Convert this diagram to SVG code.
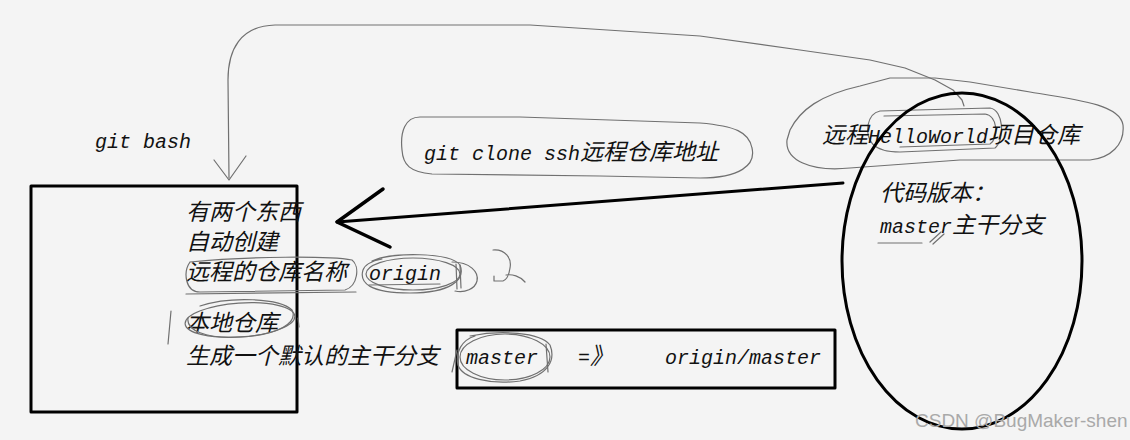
<svg xmlns="http://www.w3.org/2000/svg" width="1130" height="440" viewBox="0 0 1130 440">
<style>
.c{font-family:"Noto Sans CJK SC","Liberation Mono",sans-serif;font-size:23px;font-style:italic;fill:#111}
.l{font-family:"Liberation Mono","Noto Sans CJK SC",monospace;font-size:20px;font-style:italic;fill:#111}
.thin{fill:none;stroke:#707070;stroke-width:1.2;stroke-linecap:round;stroke-linejoin:round}
.bold{fill:none;stroke:#000;stroke-width:3;stroke-linecap:round;stroke-linejoin:round}
.wm{font-family:"Liberation Sans",Arial,sans-serif;font-size:19px;fill:#a9a9a9}
</style>
<rect width="1130" height="440" fill="#f4f4f4"/>

<g id="connectors">
  <path class="thin" d="M229,178 L228,80 C228,50 240,26 275,25 L530,25 L700,36 L800,50 L870,60 L905,68 L935,80 L953,90 L962,100 L964,106"/>
  <polyline class="thin" points="214,160 229,180 246,156"/>
  <path class="bold" d="M843,183 L337,222"/>
  <polyline class="bold" points="383,189 337,222 390,247" style="stroke-width:3.5"/>
</g>

<g id="git-bash-label">
  <text class="l" x="95" y="148">git bash</text>
</g>

<g id="git-clone-label">
  <path class="thin" d="M420,117 C405,117 400,132 402,150 C403,165 410,172 432,174 L600,176 L700,178 C740,178 756,165 752,148 C749,132 735,126 700,123 L520,117 L420,117"/>
  <text class="c" x="424" y="160"><tspan class="l">git clone ssh</tspan>远程仓库地址</text>
</g>

<g id="local-box">
  <rect class="bold" x="31" y="186" width="266" height="226"/>
  <text class="c" x="186" y="220">有两个东西</text>
  <text class="c" x="186" y="250">自动创建</text>
  <text class="c" x="186" y="280">远程的仓库名称</text>
  <path class="thin" d="M190,262 C250,256 330,256 352,260 C360,266 358,286 345,290 L200,292 C185,292 183,272 190,262 M186,294 L356,292"/>
  <text class="l" x="369" y="280">origin</text>
  <path class="thin" d="M372,261 C392,252 450,252 460,265 C466,280 450,293 410,293 C370,293 359,283 363,270 C365,264 372,261 382,259"/>
  <ellipse class="thin" cx="413" cy="274" rx="47" ry="16"/>
  <path class="thin" d="M452,262 C470,262 479,272 477,281 C475,289 465,293 455,291 M456,264 L457,289 M460,265 L461,288 M369,285 L440,284"/>
  <path class="thin" d="M493,250 C505,249 512,258 510,268 C509,275 506,280 503,281 L494,281 L494,276 M506,275 C512,274 520,276 525,282"/>
  <text class="c" x="186" y="331">本地仓库</text>
  <ellipse class="thin" cx="240" cy="320" rx="55" ry="17" transform="rotate(-4 240 320)"/>
  <path class="thin" d="M200,306 C230,296 280,298 292,310 C298,322 280,335 240,337 C205,339 186,330 188,318"/>
  <path class="thin" d="M171,311 L168,344 M298,318 L299,327"/>
  <text class="c" x="186" y="364">生成一个默认的主干分支</text>
</g>

<g id="master-box">
  <rect class="bold" x="457" y="330" width="378" height="58"/>
  <text class="l" x="466" y="364">master</text>
  <ellipse class="thin" cx="505" cy="357" rx="45" ry="23"/>
  <path class="thin" d="M470,336 C500,330 540,332 550,345 C556,360 548,376 520,381 C490,385 462,378 458,365 C455,352 462,340 475,336 M457,350 L452,372 M546,344 L548,372"/>
  <text class="l" x="578" y="364">=<tspan class="c">》</tspan></text>
  <text class="l" x="665" y="364">origin/master</text>
</g>

<g id="remote-repo">
  <path class="thin" d="M790,130 C800,110 820,95 860,86 L890,78 L935,78 L970,82 L1030,92 C1080,100 1120,105 1123,125 C1125,145 1110,158 1090,160 L960,160 L850,168 C810,172 785,160 787,140 L790,130"/>
  <path class="thin" d="M880,111 L990,108 C1004,110 1005,140 995,148 L900,152 C872,152 866,140 868,125 C870,115 875,112 880,111 M884,116 L985,114 C998,116 999,138 990,144 L900,147"/>
  <text class="c" x="822" y="143">远程<tspan class="l">HelloWorld</tspan>项目仓库</text>
  <ellipse class="bold" cx="962" cy="261" rx="120" ry="168"/>
  <text class="c" x="880" y="201">代码版本：</text>
  <text class="c" x="880" y="233"><tspan class="l">master</tspan>主干分支</text>
  <path class="thin" d="M878,243 L922,243 M930,242 L941,232 M933,244 L944,234"/>
</g>

<text class="wm" x="915" y="427">CSDN @BugMaker-shen</text>
</svg>
